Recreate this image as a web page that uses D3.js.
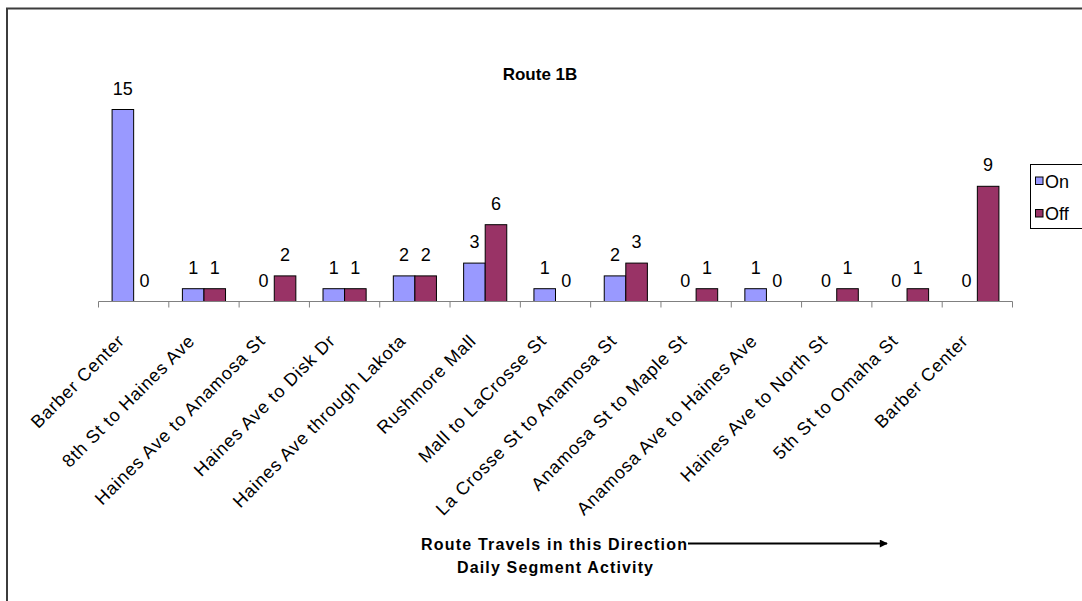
<!DOCTYPE html>
<html>
<head>
<meta charset="utf-8">
<script src="https://cdn.jsdelivr.net/npm/d3@7"></script>
<style>
  html, body { margin: 0; padding: 0; background: #fff; }
  svg { display: block; font-family: "Liberation Sans", Arial, sans-serif; }
</style>
</head>
<body>
<svg id="chart" width="1082" height="601"></svg>
<script>
// Route 1B stop segments, in travel order
const categories = [
  "Barber Center",
  "8th St to Haines Ave",
  "Haines Ave to Anamosa St",
  "Haines Ave to Disk Dr",
  "Haines Ave through Lakota",
  "Rushmore Mall",
  "Mall to LaCrosse St",
  "La Crosse St to Anamosa St",
  "Anamosa St to Maple St",
  "Anamosa Ave to Haines Ave",
  "Haines Ave to North St",
  "5th St to Omaha St",
  "Barber Center"
];
// Daily boardings and alightings per segment
const onValues  = [15, 1, 0, 1, 2, 3, 1, 2, 0, 1, 0, 0, 0];
const offValues = [0, 1, 2, 1, 2, 6, 0, 3, 1, 0, 1, 1, 9];
const seriesNames = ["On", "Off"];
const seriesColors = ["#9999FF", "#993366"];

const svg = d3.select("#chart");
const W = 1082, H = 601;

svg.append("rect").attr("width", W).attr("height", H).attr("fill", "#fff");

// Outer chart frame (runs past the right and bottom edges)
svg.append("path")
  .attr("d", "M7,601V8.5H1082")
  .attr("fill", "none")
  .attr("stroke", "#3c3c3c")
  .attr("stroke-width", 2);

const baseY = 301.5;
const x = d3.scaleBand()
  .domain(d3.range(categories.length))
  .range([98.5, 1012.5])
  .padding(0);

const inner = d3.scaleBand()
  .domain(seriesNames)
  .range([0, x.bandwidth()])
  .paddingInner(0)
  .paddingOuter(0.63);

const y = d3.scaleLinear()
  .domain([0, 16])
  .range([baseY, baseY - 16 * 12.8]);

// Title
svg.append("text")
  .attr("x", 540).attr("y", 80)
  .attr("text-anchor", "middle")
  .attr("font-size", 17).attr("font-weight", "bold")
  .text("Route 1B");

// Bars
const rows = categories.map((c, i) => ({ i, vals: [onValues[i], offValues[i]] }));
const groups = svg.append("g").selectAll("g")
  .data(rows)
  .join("g")
  .attr("transform", d => `translate(${x(d.i)},0)`);

groups.selectAll("rect")
  .data(d => d.vals.map((v, k) => ({ v, k })))
  .join("rect")
  .attr("x", d => inner(seriesNames[d.k]))
  .attr("width", inner.bandwidth())
  .attr("y", d => y(d.v))
  .attr("height", d => baseY - y(d.v))
  .attr("fill", d => seriesColors[d.k])
  .attr("stroke", d => d.v > 0 ? "#000" : "none")
  .attr("stroke-width", 1);

// Value labels
groups.selectAll("text")
  .data(d => d.vals.map((v, k) => ({ v, k })))
  .join("text")
  .attr("x", d => inner(seriesNames[d.k]) + inner.bandwidth() / 2)
  .attr("y", d => y(d.v) - 15)
  .attr("text-anchor", "middle")
  .attr("font-size", 18)
  .attr("fill", "#000")
  .text(d => d.v);

// Category axis line and separators between categories
const axG = svg.append("g").attr("transform", `translate(0,${baseY})`);
axG.append("path")
  .attr("d", `M${x.range()[0]},0H${x.range()[1]}`)
  .attr("stroke", "#808080");
const bounds = d3.range(categories.length + 1).map(i => x.range()[0] + i * x.step());
axG.selectAll("line.sep")
  .data(bounds)
  .join("line")
  .attr("class", "sep")
  .attr("x1", d => d).attr("x2", d => d)
  .attr("y1", 0).attr("y2", 6)
  .attr("stroke", "#808080");

// Rotated category labels
svg.append("g").selectAll("text")
  .data(categories)
  .join("text")
  .attr("transform", (d, i) => `translate(${x(i) + x.bandwidth() / 2 - 8},342) rotate(-45)`)
  .attr("text-anchor", "end")
  .attr("font-size", 18)
  .attr("letter-spacing", 0.8)
  .text(d => d);

// Direction note and arrow
const defs = svg.append("defs");
defs.append("marker")
  .attr("id", "arrowhead")
  .attr("viewBox", "0 0 10 10")
  .attr("refX", 9).attr("refY", 5)
  .attr("markerWidth", 4.5).attr("markerHeight", 4)
  .attr("orient", "auto")
  .append("path").attr("d", "M0,0L10,5L0,10Z").attr("fill", "#000");

svg.append("text")
  .attr("x", 421).attr("y", 550)
  .attr("font-size", 16).attr("font-weight", "bold")
  .attr("textLength", 266).attr("lengthAdjust", "spacing")
  .text("Route Travels in this Direction");

svg.append("line")
  .attr("x1", 688).attr("x2", 887)
  .attr("y1", 543.5).attr("y2", 543.5)
  .attr("stroke", "#000").attr("stroke-width", 2)
  .attr("marker-end", "url(#arrowhead)");

svg.append("text")
  .attr("x", 555).attr("y", 573)
  .attr("text-anchor", "middle")
  .attr("font-size", 16).attr("font-weight", "bold")
  .attr("textLength", 196).attr("lengthAdjust", "spacing")
  .text("Daily Segment Activity");

// Legend
const lg = svg.append("g");
lg.append("rect")
  .attr("x", 1030.5).attr("y", 164.5)
  .attr("width", 80).attr("height", 64)
  .attr("fill", "#fff").attr("stroke", "#000");
seriesNames.forEach((name, k) => {
  const cy = 181 + k * 32.5;
  lg.append("rect")
    .attr("x", 1035.5).attr("y", cy - 4)
    .attr("width", 7.5).attr("height", 7.5)
    .attr("fill", seriesColors[k]).attr("stroke", "#000");
  lg.append("text")
    .attr("x", 1045).attr("y", cy + 6.5)
    .attr("font-size", 18)
    .text(name);
});
</script>
</body>
</html>
